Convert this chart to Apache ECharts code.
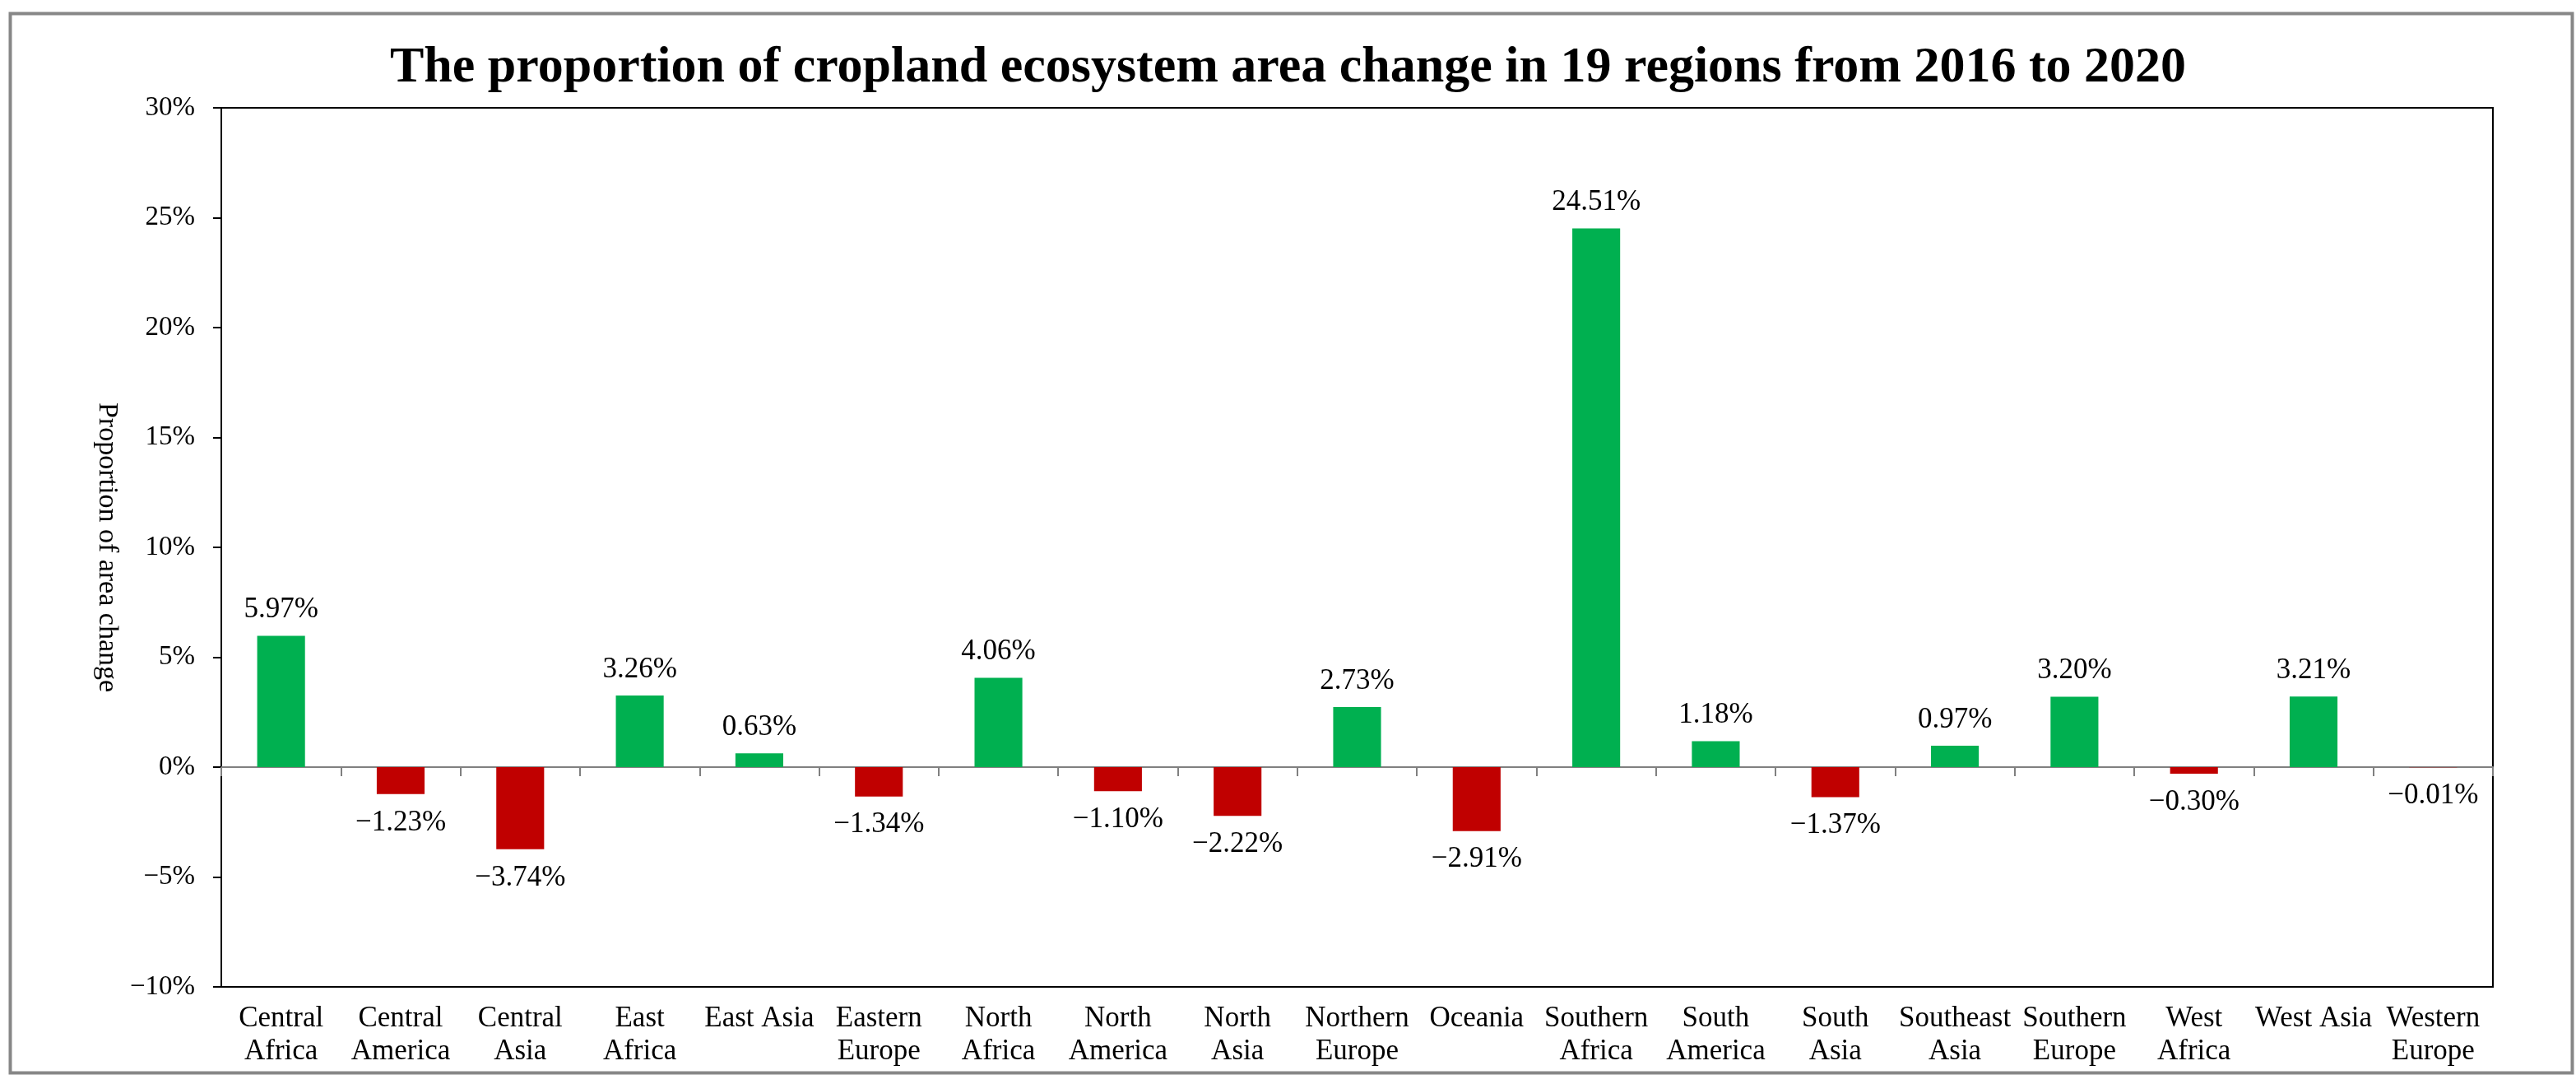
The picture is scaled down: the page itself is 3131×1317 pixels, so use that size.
<!DOCTYPE html>
<html>
<head>
<meta charset="utf-8">
<script src="https://cdn.jsdelivr.net/npm/echarts@6/dist/echarts.min.js"></script>
<style>
html,body{margin:0;padding:0;background:#fff;}
#chart{width:3131px;height:1317px;}
</style>
</head>
<body>
<div id="chart"></div>
<script>
const titleText = 'The proportion of cropland ecosystem area change in 19 regions from 2016 to 2020';
const yAxisName = 'Proportion of area change';
const categories = ['Central\nAfrica','Central\nAmerica','Central\nAsia','East\nAfrica','East Asia','Eastern\nEurope','North\nAfrica','North\nAmerica','North\nAsia','Northern\nEurope','Oceania','Southern\nAfrica','South\nAmerica','South\nAsia','Southeast\nAsia','Southern\nEurope','West\nAfrica','West Asia','Western\nEurope'];
const values = [5.97,-1.23,-3.74,3.26,0.63,-1.34,4.06,-1.10,-2.22,2.73,-2.91,24.51,1.18,-1.37,0.97,3.20,-0.30,3.21,-0.01];
const yMin = -10, yMax = 30, yInterval = 5;

const FONT = 'Liberation Serif';
const POS = '#00B050', NEG = '#C00000';
const fmtPct = (v, d) => {
  const s = (d === undefined ? String(Math.abs(v)) : Math.abs(v).toFixed(d)) + '%';
  return (v < 0 ? '\u2212' : '') + s;
};

const chart = echarts.init(document.getElementById('chart'), null, {renderer:'canvas'});
chart.setOption({
  backgroundColor:'#fff',
  animation:false,
  title:{
    text:titleText, left:'center', top:47,
    textStyle:{fontFamily:FONT, fontWeight:'bold', fontSize:62, color:'#000'}
  },
  graphic:[{
    type:'rect', shape:{x:12.5, y:16.5, width:3114, height:1287},
    style:{fill:'none', stroke:'#878787', lineWidth:4}, z:100
  }],
  grid:{left:269, right:101, top:131, bottom:118, show:true, borderColor:'#000', borderWidth:2, backgroundColor:'transparent'},
  xAxis:[{
    type:'category', data:categories,
    axisLine:{onZero:true, lineStyle:{color:'#808080', width:2}},
    axisTick:{show:true, alignWithLabel:false, length:11, lineStyle:{color:'#808080', width:2}},
    axisLabel:{show:false}, splitLine:{show:false}
  },{
    type:'category', data:categories, position:'bottom',
    axisLine:{show:false, onZero:false}, axisTick:{show:false},
    axisLabel:{interval:0, margin:19, fontFamily:FONT, fontSize:35, lineHeight:40, color:'#000'}
  }],
  yAxis:{
    type:'value', min:yMin, max:yMax, interval:yInterval,
    name:yAxisName, nameLocation:'middle', nameRotate:-90, nameGap:122,
    nameTextStyle:{fontFamily:FONT, fontSize:34, color:'#000'},
    axisLine:{show:true, lineStyle:{color:'#000', width:2}},
    axisTick:{show:true, inside:false, length:10, lineStyle:{color:'#000', width:2}},
    axisLabel:{margin:32, fontFamily:FONT, fontSize:33, color:'#000', formatter:v => fmtPct(v)},
    splitLine:{show:false}
  },
  series:[{
    type:'bar', xAxisIndex:0, barWidth:'40%',
    data:values.map(v => ({
      value:v,
      itemStyle:{color: v >= 0 ? POS : NEG},
      label:{position: v >= 0 ? 'top' : 'bottom', distance: v >= 0 ? 14 : 17}
    })),
    label:{show:true, fontFamily:FONT, fontSize:35, color:'#000', formatter:p => fmtPct(p.value, 2)}
  }]
});
</script>
</body>
</html>
